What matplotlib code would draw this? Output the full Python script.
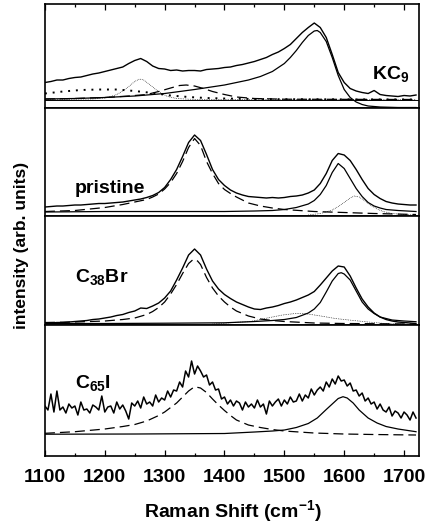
import numpy as np
import matplotlib
matplotlib.use("Agg")
import matplotlib.pyplot as plt
from matplotlib.ticker import MultipleLocator

plt.rcParams.update({
    'font.family': 'Liberation Sans',
    'font.weight': 'bold',
    'mathtext.fontset': 'custom',
    'mathtext.rm': 'Liberation Sans:bold',
    'mathtext.bf': 'Liberation Sans:bold',
    'mathtext.it': 'Liberation Sans:bold',
    'axes.linewidth': 1.2,
    'xtick.labelsize': 14,
    'xtick.major.width': 0.9,
    'xtick.minor.width': 0.9,
    'xtick.major.size': 4.5,
    'xtick.minor.size': 2.3,
})

# common sampling grids (cm^-1)
X10 = np.arange(1100, 1721, 10)
X5 = np.arange(1100, 1721, 5)

# ---- KC9 ----
KC9_DATA = [17, 18, 19.5, 19.5, 21, 22, 22.5, 24, 25.5, 26.5,
            28, 29.5, 31, 32.5, 36, 39, 41, 38, 33.5, 31,
            30.5, 29, 29.5, 28.5, 29, 29, 28.5, 30, 30.5, 31,
            32, 32.5, 34, 35, 36.5, 38, 40, 42, 45, 47.5,
            51, 55, 61, 67, 72, 76.5, 72, 62, 45, 27,
            17, 11, 8.5, 7, 6, 9, 5, 4, 3.5, 3,
            4, 3.5, 4.5]
KC9_FIT_X = [1100, 1150, 1200, 1250, 1300, 1350, 1400, 1440, 1460, 1480, 1500, 1510, 1520, 1530,
             1540, 1550, 1555, 1560, 1570, 1580, 1590, 1600, 1610, 1620, 1630, 1640, 1660, 1690, 1720]
KC9_FIT_Y = [0.5, 1, 2, 3.5, 6, 10, 14.5, 19.5, 23, 28, 36, 42, 49, 57,
             64, 68.5, 69, 67, 58, 42, 24, 10, 2, -2.5, -5, -6.5, -7.5, -8, -8]
KC9_D1_X = [1100, 1180, 1200, 1210, 1220, 1230, 1240, 1250, 1258, 1265, 1275, 1285, 1295, 1305, 1320, 1340, 1360, 1720]
KC9_D1_Y = [0, 0.5, 1.5, 3, 5, 8.5, 13, 18, 20.5, 19.5, 15, 10, 6, 3, 1, 0.3, 0, 0]
KC9_DASH_X = [1100, 1150, 1200, 1240, 1270, 1290, 1310, 1325, 1336, 1350, 1365, 1380, 1400, 1420, 1450, 1500, 1720]
KC9_DASH_Y = [0.5, 1, 2, 3.5, 5, 8, 11.5, 14, 14.5, 13.5, 11, 8, 5, 2.5, 1, 0.3, 0]
KC9_BG_X = [1100, 1130, 1160, 1190, 1220, 1250, 1280, 1310, 1340, 1370, 1400, 1450, 1500, 1720]
KC9_BG_Y = [6, 8, 9.5, 10, 10, 8.5, 6.5, 4, 2.5, 1.5, 1, 0.5, 0.3, 0]

# ---- pristine ----
PRI_DATA = [8.5, 9, 9.5, 9.5, 10, 10.5, 10.5, 11, 11.5, 12,
            12, 12.5, 13, 13.5, 14.5, 15.5, 16.5, 18, 20, 23,
            28, 36, 46, 59, 73, 80.5, 75, 61, 46, 36,
            30, 25.5, 22.5, 20.5, 19, 18.5, 18, 17.5, 18, 17.5,
            18, 19, 19.5, 20.5, 22.5, 25.5, 32, 42, 55, 62,
            60.5, 55, 46, 36, 27, 21, 17, 14, 12.5, 11.5,
            11, 10.5, 10.5]
PRI_DASH_X = [1100, 1150, 1200, 1230, 1250, 1270, 1280, 1290, 1300, 1310, 1320, 1330, 1340, 1350,
              1360, 1370, 1380, 1390, 1400, 1410, 1420, 1440, 1460, 1480, 1500, 1550, 1600, 1650, 1720]
PRI_DASH_Y = [4, 5, 8, 11, 13.5, 16, 18.5, 21.5, 26.5, 33, 42, 54, 68, 77,
              70, 54, 42, 32, 26, 22, 18.5, 12.5, 9.5, 7.5, 6, 4, 3, 2, 1]
PRI_FIT_X = [1100, 1200, 1300, 1400, 1450, 1480, 1500, 1520, 1540, 1550, 1560, 1570, 1580, 1590,
             1600, 1610, 1620, 1630, 1640, 1650, 1660, 1670, 1690, 1720]
PRI_FIT_Y = [3.5, 4, 4, 4, 4.5, 5, 6, 8, 11.5, 15, 21, 30, 43, 52,
             47, 37, 27, 19, 13, 9.5, 7.5, 6, 5, 4]
PRI_DOT_X = [1540, 1560, 1570, 1580, 1590, 1600, 1610, 1617, 1625, 1635, 1645, 1655, 1665, 1680, 1700, 1720]
PRI_DOT_Y = [0.5, 2, 3.5, 5.5, 9, 13, 17.5, 19.5, 18.5, 14.5, 10, 6.5, 4, 2, 1, 0.5]

# ---- C38Br ----
BR_DATA = [1.5, 2, 2.5, 2.5, 3, 3.5, 4, 4.5, 5.5, 6,
           7, 8, 9.5, 10.5, 12.5, 14, 17, 16.5, 19, 22,
           27, 34, 45, 57, 70, 76, 70, 56, 44, 36,
           30.5, 26.5, 23, 20.5, 18, 16, 15.5, 17, 18, 19.5,
           21.5, 23, 25, 27.5, 30, 33.5, 40, 47, 54, 59,
           58, 49, 37, 26, 18, 12, 8, 5.5, 4, 3,
           2.5, 2, 1.5]
BR_DASH_X = [1100, 1150, 1200, 1230, 1250, 1270, 1280, 1290, 1300, 1310, 1320, 1330, 1340, 1348,
             1355, 1360, 1370, 1380, 1390, 1400, 1410, 1420, 1440, 1460, 1480, 1500, 1550, 1600, 1720]
BR_DASH_Y = [2.5, 3, 4, 5.5, 7, 10.5, 13.5, 17.5, 23, 31, 40.5, 51.5, 61.5, 65.7,
             64, 60.5, 47.5, 37, 29, 23, 18, 14, 9, 6, 4.5, 3.5, 2, 1.5, 1]
BR_FIT_X = [1100, 1200, 1300, 1400, 1450, 1480, 1500, 1520, 1540, 1550, 1560, 1570, 1580, 1590,
            1595, 1600, 1610, 1620, 1630, 1640, 1650, 1660, 1680, 1700, 1720]
BR_FIT_Y = [1.5, 1.5, 1.8, 2.2, 3.5, 4.5, 5.5, 7.5, 12, 16, 22.5, 33, 44, 51.5,
            52.3, 51, 45, 34, 23, 16, 11.5, 8, 5, 4, 3.3]
BR_DOT_X = [1380, 1400, 1420, 1441, 1460, 1469, 1480, 1497, 1515, 1530, 1545, 1564, 1585, 1608,
            1640, 1664, 1690, 1720]
BR_DOT_Y = [1, 1.8, 2.8, 3.3, 5.5, 6.7, 8, 10, 11.3, 11.7, 10.5, 8.7, 6.5, 5,
            3, 1.7, 1, 0.5]

# ---- C65I ----
I_DATA = [31, 27, 43, 25, 46, 27, 30, 24, 33, 29,
          31, 22, 35, 27, 28, 24, 32, 30, 27, 41,
          25, 30, 31, 24, 35, 28, 32, 26, 18, 34,
          31, 36, 29, 40, 33, 35, 31, 42, 35, 39,
          37, 46, 40, 47, 46, 55, 50, 66, 60, 76,
          63, 71, 66, 60, 62, 52, 55, 47, 48, 38,
          40, 33, 37, 31, 36, 34, 27, 35, 30, 33,
          29, 37, 30, 33, 23, 36, 31, 35, 38, 31,
          37, 33, 40, 35, 36, 43, 36, 42, 39, 48,
          42, 47, 50, 46, 55, 50, 58, 53, 61, 56,
          57, 51, 54, 46, 47, 41, 44, 36, 39, 33,
          35, 28, 33, 27, 25, 30, 21, 26, 24, 19,
          25, 22, 17, 25, 19]
I_DASH_X = [1100, 1150, 1200, 1230, 1250, 1270, 1290, 1300, 1310, 1320, 1330, 1340, 1350, 1360,
            1370, 1380, 1390, 1400, 1410, 1420, 1440, 1460, 1480, 1500, 1550, 1600, 1650, 1720]
I_DASH_Y = [3.7, 5.3, 8, 10.5, 12.5, 16, 21.5, 25, 29.5, 34, 40, 46, 50.3, 49,
            44.5, 38, 32, 26.5, 21.5, 17, 12, 9.5, 7.5, 6, 4, 3, 2.5, 2]
I_FIT_X = [1100, 1250, 1400, 1450, 1480, 1500, 1520, 1540, 1555, 1570, 1580, 1590, 1598, 1605,
           1615, 1625, 1640, 1655, 1670, 1690, 1720]
I_FIT_Y = [2.8, 3, 3.5, 5, 6, 7, 9.5, 13.5, 19, 27.5, 33, 38.5, 40.3, 39,
           34, 27, 19, 14, 10.5, 8, 5.3]

DASHED = (0, (8, 4))
FINE_DOT = (0, (1, 1.5))
BIG_DOT = (0, (1, 3))


def style_x(ax, top=False, bottom=False):
  ax.set_xlim(1100, 1725)
  ax.xaxis.set_major_locator(MultipleLocator(100))
  ax.xaxis.set_minor_locator(MultipleLocator(50))
  ax.tick_params(axis='x', which='both', direction='in', top=top, bottom=bottom,
                 labelbottom=bottom, labeltop=False, pad=9)
  ax.set_yticks([])


if __name__ == "__main__":
  fig = plt.figure(figsize=(4.28, 5.27), dpi=100)
  gs = fig.add_gridspec(4, 1, height_ratios=[104, 107.5, 109.5, 131], hspace=0,
                        left=0.105, right=0.979, top=0.9924, bottom=0.1347)
  axes = [fig.add_subplot(gs[i]) for i in range(4)]

  # KC9
  ax = axes[0]
  ax.axhline(0, color='black', lw=0.7)
  ax.plot(X10, KC9_DATA, color='black', lw=1.0)
  ax.plot(KC9_FIT_X, KC9_FIT_Y, color='black', lw=0.9)
  ax.plot(KC9_D1_X, KC9_D1_Y, color='black', lw=0.5, linestyle=FINE_DOT)
  ax.plot(KC9_DASH_X, KC9_DASH_Y, color='black', lw=0.9, linestyle=DASHED)
  ax.plot(KC9_BG_X, KC9_BG_Y, color='black', lw=1.4, linestyle=BIG_DOT)
  ax.set_ylim(-8.5, 95.5)
  style_x(ax, top=True)

  # pristine
  ax = axes[1]
  ax.plot(X10, PRI_DATA, color='black', lw=1.0)
  ax.plot(PRI_DASH_X, PRI_DASH_Y, color='black', lw=0.9, linestyle=DASHED)
  ax.plot(PRI_FIT_X, PRI_FIT_Y, color='black', lw=0.9)
  ax.plot(PRI_DOT_X, PRI_DOT_Y, color='black', lw=0.5, linestyle=FINE_DOT)
  ax.set_ylim(0, 107.5)
  style_x(ax)

  # C38Br
  ax = axes[2]
  ax.plot(X10, BR_DATA, color='black', lw=1.0)
  ax.plot(BR_DASH_X, BR_DASH_Y, color='black', lw=0.9, linestyle=DASHED)
  ax.plot(BR_FIT_X, BR_FIT_Y, color='black', lw=0.9)
  ax.plot(BR_DOT_X, BR_DOT_Y, color='black', lw=0.5, linestyle=FINE_DOT)
  ax.set_ylim(0, 109.5)
  style_x(ax)

  # C65I
  ax = axes[3]
  ax.plot(X5, I_DATA, color='black', lw=1.1)
  ax.plot(I_DASH_X, I_DASH_Y, color='black', lw=0.9, linestyle=DASHED)
  ax.plot(I_FIT_X, I_FIT_Y, color='black', lw=0.9)
  ax.set_ylim(-19, 112)
  style_x(ax, bottom=True)

  # panel labels (figure pixel positions)
  W, H = 428, 527
  for txt, px, py in [(r"KC$_9$", 372, 79), ("pristine", 75, 193),
                      (r"C$_{38}$Br", 75, 282), (r"C$_{65}$I", 75, 388)]:
    fig.text(px / W, 1 - py / H, txt, fontsize=14, fontweight='bold', va='baseline', ha='left')

  fig.text(0.543, 0.030, r"Raman Shift (cm$^{-1}$)", fontsize=14, fontweight='bold',
           ha='center', va='center')
  fig.text(0.051, 0.535, "intensity (arb. units)", fontsize=12.5, fontweight='bold',
           rotation=90, ha='center', va='center')

  plt.savefig("out.png", dpi=100)
  plt.close()
